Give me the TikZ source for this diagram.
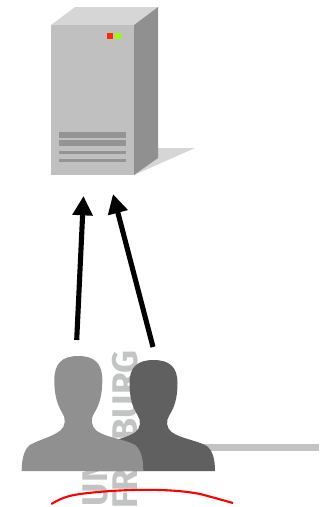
\documentclass[tikz,border=0pt]{standalone}
\usepackage{fontspec}
\setmainfont{Fira Sans}
\usetikzlibrary{arrows.meta}
\definecolor{ServerTop}{RGB}{214, 214, 214}
\definecolor{ServerFront}{RGB}{192, 192, 192}
\definecolor{ServerSide}{RGB}{144, 144, 144}
\definecolor{ServerVent}{RGB}{148, 148, 148}
\definecolor{LogoGray}{RGB}{194, 196, 196}
\definecolor{UserLight}{RGB}{144, 144, 144}
\definecolor{UserDark}{RGB}{96, 96, 96}
\definecolor{LedRed}{RGB}{255, 42, 0}
\definecolor{LedGreen}{RGB}{153, 255, 0}
\tikzset{
  logotext/.style={rotate=90, inner sep=0pt, text=LogoGray, font=\bfseries\fontsize{20.3}{20.3}\selectfont},
  request/.style={line width=2.9pt, -{Triangle[length=11pt,width=11pt]}}
}

\begin{document}
\begin{tikzpicture}[x=0.02cm, y=-0.02cm]
  \useasboundingbox (0, 0) rectangle (327, 507);
  \clip (0, 0) rectangle (327, 507);

  % Logo behind the users
  \node[logotext, anchor=base west] (uni) at (107.5, 506.5) {UNI};
  \node[logotext, anchor=base east] (freiburg) at (137, 350) {FREIBURG};
  \fill[LogoGray] (190, 444) rectangle (319, 451);

  % Users
  \foreach \x/\top/\yfac/\lw/\rw/\col in {153.5/360/1/61.5/61.5/UserDark, 78.3/356/1.036/56.6/65/UserLight} {
    \begin{scope}[shift={(\x, \top)}, yscale=\yfac]
      \fill[\col] (0, 0)
        .. controls (16, 0) and (24, 7) .. (24, 23)
        .. controls (24, 38) and (21, 47) .. (16, 55)
        .. controls (12, 61) and (13, 68) .. (18, 72)
        .. controls (28, 79) and ({\rw-19}, 80) .. ({\rw-8}, 86)
        .. controls ({\rw-3}, 90) and (\rw, 98) .. (\rw, 111)
        -- (-\lw, 111)
        .. controls (-\lw, 98) and ({-\lw+3}, 90) .. ({-\lw+8}, 86)
        .. controls ({-\lw+19}, 80) and (-28, 79) .. (-18, 72)
        .. controls (-13, 68) and (-12, 61) .. (-16, 55)
        .. controls (-21, 47) and (-24, 38) .. (-24, 23)
        .. controls (-24, 7) and (-16, 0) .. (0, 0) -- cycle;
    \end{scope}
  }

  % Server
  \fill[ServerTop] (134, 175) -- (158, 148) -- (195, 148) -- cycle;
  \fill[ServerTop] (51, 25) -- (75, 7) -- (158, 7) -- (134, 25) -- cycle;
  \fill[ServerSide] (134, 25) -- (158, 7) -- (158, 158) -- (134, 175) -- cycle;
  \fill[ServerFront] (51, 25) rectangle (134, 175);
  \fill[LedRed] (107, 33) rectangle (113, 39);
  \fill[LedGreen] (115, 33) rectangle (121, 39);
  \foreach \ya/\yb in {132/138, 140/146, 151/154, 159/162} {
    \fill[ServerVent] (59, \ya) rectangle (126, \yb);
  }

  % Requests
  \coordinate (userA) at (76.7, 340);
  \coordinate (userB) at (153, 347);
  \coordinate (serverA) at (83.5, 196);
  \coordinate (serverB) at (113, 194);
  \draw[request] (userA) -- (serverA);
  \draw[request] (userB) -- (serverB);

  % Red stroke
  \draw[red, line width=1.2pt] (51.3, 504) .. controls (60, 499) and (66, 496) .. (80, 494)
    .. controls (110, 490) and (165, 487) .. (200, 494)
    .. controls (212, 497) and (222, 500) .. (233, 503);
\end{tikzpicture}
\end{document}
